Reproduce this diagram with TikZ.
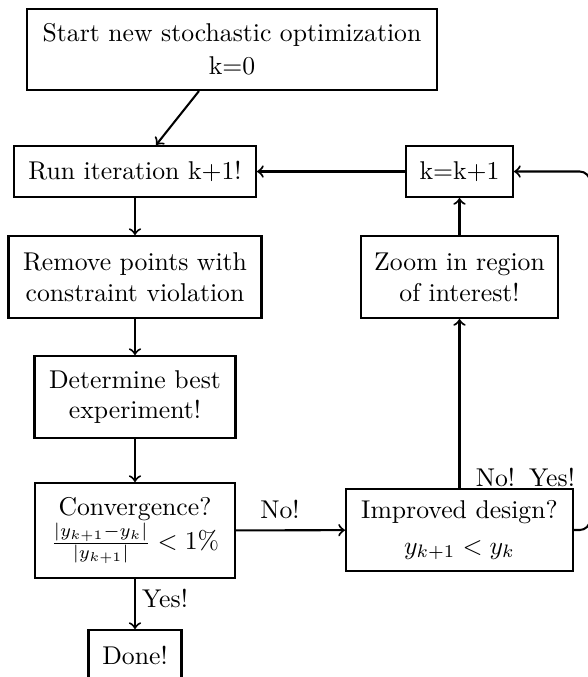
\documentclass[tikz,border=0pt]{standalone}
\def\pxu{0.38911pt}
\begin{document}
\begin{tikzpicture}[x=\pxu, y=-\pxu,
  box/.style={draw, thick, align=center, inner sep=0pt},
  flow/.style={thick, ->},
  lbl/.style={inner sep=0pt}]
\useasboundingbox (0,0) rectangle (588,677);
\clip (0,0) rectangle (588,677);
\node[box, minimum width=410*\pxu, minimum height=81*\pxu] (start) at (232,49.5) {Start new stochastic optimization\\[1pt] k=0};
\node[box, minimum width=242*\pxu, minimum height=51*\pxu] (run) at (135,171.5) {Run iteration k+1!};
\node[box, minimum width=107*\pxu, minimum height=51*\pxu] (kk) at (459.5,171.5) {k=k+1};
\node[box, minimum width=253*\pxu, minimum height=82*\pxu] (remove) at (135,277) {Remove points with\\ constraint violation};
\node[box, minimum width=197*\pxu, minimum height=82*\pxu] (zoom) at (459.5,277) {Zoom in region\\ of interest!};
\node[box, minimum width=201*\pxu, minimum height=82*\pxu] (best) at (135,397) {Determine best\\ experiment!};
\node[box, minimum width=200*\pxu, minimum height=95*\pxu] (conv) at (135,530.5) {Convergence?\\ $\frac{|y_{k+1}-y_k|}{|y_{k+1}|}<1\%$};
\node[box, minimum width=227*\pxu, minimum height=82*\pxu] (impr) at (459.5,530) {Improved design?\\[2pt] $y_{k+1}<y_k$};
\node[box, minimum width=93*\pxu, minimum height=51*\pxu] (done) at (135,655.5) {Done!};
\coordinate (loopc) at (590,530);
\draw[flow] (start) -- (run);
\draw[flow] (run) -- (remove);
\draw[flow] (remove) -- (best);
\draw[flow] (best) -- (conv);
\draw[flow] (conv) -- (done);
\draw[flow] (conv) -- (impr);
\draw[flow] (impr) -- (zoom);
\draw[flow] (zoom) -- (kk);
\draw[flow] (kk) -- (run);
\draw[flow, rounded corners=4pt] (impr.east) -- (loopc) |- (kk.east);
\node[lbl] (lno) at (280,509) {No!};
\node[lbl] (lyes) at (165,598) {Yes!};
\node[lbl] (lno2) at (495.5,477) {No!};
\node[lbl] (lyes2) at (552,477) {Yes!};
\end{tikzpicture}
\end{document}
